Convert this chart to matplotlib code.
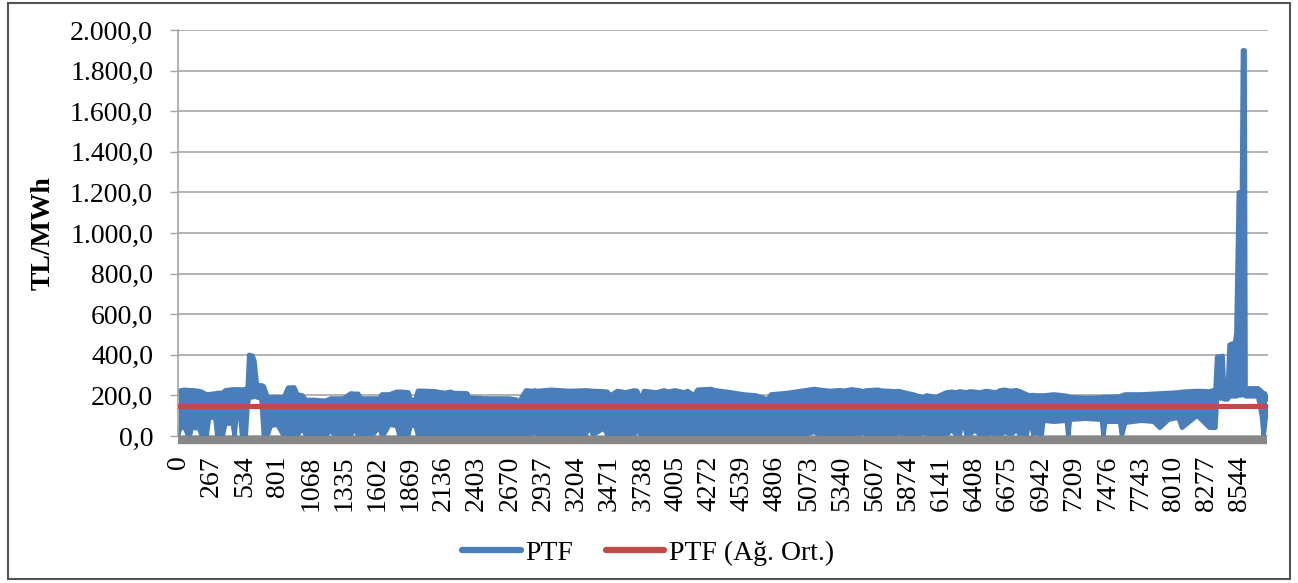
import matplotlib
matplotlib.use("Agg")
import matplotlib.pyplot as plt
from matplotlib.transforms import offset_copy
from matplotlib.patches import Rectangle
from matplotlib.lines import Line2D

# ---- data ----
# hour of year, upper envelope and lower envelope of hourly PTF (TL/MWh)
hours = [0, 20, 60, 80, 95, 110, 170, 190, 230, 250, 300, 315, 360, 380, 440, 455, 470, 500, 515, 545,
         560, 572, 600, 615, 635, 670, 690, 720, 745, 800, 850, 885, 935, 960, 1000, 1030, 1100, 1150,
         1190, 1230, 1260, 1330, 1390, 1420, 1450, 1470, 1520, 1560, 1620, 1640, 1650, 1700, 1760, 1780,
         1800, 1855, 1870, 1910, 1930, 1960, 2073, 2113, 2127, 2140, 2194, 2207, 2220, 2315, 2327, 2340,
         2470, 2485, 2500, 2650, 2662, 2675, 2720, 2735, 2760, 2800, 2850, 2870, 2890, 3000, 3150, 3280,
         3310, 3340, 3427, 3454, 3480, 3535, 3600, 3670, 3695, 3723, 3750, 3850, 3911, 3925, 3938, 4000,
         4073, 4087, 4100, 4153, 4180, 4288, 4300, 4315, 4449, 4550, 4650, 4745, 4772, 4900, 5040, 5120,
         5161, 5250, 5323, 5337, 5350, 5420, 5484, 5511, 5538, 5632, 5645, 5659, 5780, 5800, 5820, 5914,
         5968, 5995, 6022, 6100, 6183, 6223, 6263, 6290, 6317, 6344, 6371, 6411, 6452, 6505, 6545, 6586,
         6613, 6653, 6700, 6747, 6774, 6828, 6855, 6882, 6910, 6935, 6949, 6962, 7050, 7150, 7163, 7177,
         7300, 7433, 7446, 7460, 7580, 7594, 7621, 7750, 7850, 7900, 7970, 8050, 8078, 8200, 8300, 8330,
         8347, 8360, 8405, 8420, 8445, 8460, 8505, 8515, 8535, 8560, 8568, 8582, 8590, 8690, 8720, 8735,
         8745, 8759]
ptf_high = [215, 225, 228, 226, 225, 226, 222, 218, 205, 206, 210, 212, 213, 225, 230, 230, 230, 230, 228, 232,
            240, 400, 395, 370, 250, 250, 245, 192, 190, 192, 190, 238, 240, 205, 200, 178, 178, 175,
            175, 185, 185, 185, 210, 208, 208, 185, 185, 185, 185, 205, 205, 205, 218, 218,
            218, 215, 177, 180, 223, 223, 220, 215, 215, 212, 218, 215, 212, 210, 210, 190,
            185, 186, 185, 185, 185, 184, 180, 160, 185, 225, 222, 225, 222, 228, 222, 225,
            224, 222, 220, 218, 200, 222, 215, 225, 222, 177, 222, 215, 225, 222, 218, 225,
            215, 218, 222, 200, 228, 232, 230, 226, 215, 205, 200, 180, 205, 212, 225, 232,
            228, 222, 226, 225, 222, 230, 225, 220, 225, 228, 226, 224, 220, 222, 218, 205,
            195, 190, 200, 192, 215, 218, 215, 220, 218, 215, 220, 218, 215, 222, 218, 215,
            225, 228, 222, 226, 220, 205, 200, 202, 200, 200, 200, 200, 205, 198, 195, 192,
            188, 190, 192, 192, 195, 200, 205, 205, 208, 210, 212, 215, 218, 222, 220, 225,
            225, 390, 395, 200, 200, 450, 460, 505, 1200, 1200, 1900, 1900, 235, 235, 220, 200,
            210, 180]
ptf_low = [0, 45, 35, 0, 0, 40, 38, 0, 0, 90, 90, 0, 0, 60, 62, 0, 100, 95, 0, 0,
           150, 190, 190, 195, 190, 185, 0, 0, 50, 55, 0, 0, 5, 0, 40, 0, 5, 0,
           0, 30, 0, 5, 0, 40, 0, 5, 5, 0, 45, 0, 0, 55, 50, 5,
           5, 5, 50, 50, 5, 5, 5, 5, 45, 5, 5, 50, 5, 5, 45, 5,
           5, 45, 5, 5, 50, 5, 5, 5, 5, 5, 5, 50, 5, 5, 5, 5,
           45, 5, 38, 5, 5, 5, 5, 5, 30, 5, 5, 5, 5, 25, 5, 5,
           5, 25, 5, 5, 5, 5, 38, 5, 5, 5, 5, 5, 5, 5, 5, 20,
           5, 5, 5, 30, 5, 5, 5, 20, 5, 5, 30, 5, 5, 55, 5, 5,
           5, 20, 5, 5, 5, 30, 5, 5, 80, 5, 5, 30, 5, 5, 15, 5,
           5, 20, 5, 30, 5, 5, 80, 5, 20, 5, 0, 75, 70, 75, 0, 80,
           85, 80, 0, 70, 70, 0, 65, 75, 70, 40, 80, 90, 40, 100, 40, 40,
           40, 185, 185, 180, 180, 195, 195, 195, 200, 200, 210, 230, 195, 195, 100, 0,
           50, 140]
ptf_avg = 146.0
n_hours = 8760

xtick_values = [0, 267, 534, 801, 1068, 1335, 1602, 1869, 2136, 2403, 2670, 2937, 3204, 3471, 3738,
                4005, 4272, 4539, 4806, 5073, 5340, 5607, 5874, 6141, 6408, 6675, 6942, 7209, 7476,
                7743, 8010, 8277, 8544]
ytick_values = [0, 200, 400, 600, 800, 1000, 1200, 1400, 1600, 1800, 2000]

series_names = ["PTF", "PTF (Ağ. Ort.)"]
y_label = "TL/MWh"

BLUE = "#4a7ebb"
RED = "#be4b48"
GRAY = "#878787"
GRID = "#a6a6a6"

plt.rcParams["font.family"] = ["Liberation Serif", "DejaVu Serif"]

fig = plt.figure(figsize=(12.98, 5.83), dpi=100)
ax = fig.add_axes([178 / 1298, 1 - 436 / 583, (1268 - 178) / 1298, (436 - 30) / 583])

# PTF hourly band
ax.fill_between(hours, ptf_low, ptf_high, color=BLUE, lw=0, zorder=2)
ax.plot(hours, ptf_high, color=BLUE, lw=3.2, solid_joinstyle="round", solid_capstyle="round", zorder=2)
ax.plot(hours, ptf_low, color=BLUE, lw=3.2, solid_joinstyle="round", solid_capstyle="round", zorder=2)

# weighted average
ax.plot([0, n_hours - 1], [ptf_avg, ptf_avg], color=RED, lw=3.6, zorder=3)

# gray base line
trans = offset_copy(ax.transData, fig=fig, x=0, y=-4, units="dots")
ax.plot([-0.5, n_hours - 0.5], [0, 0], color=GRAY, lw=6, transform=trans,
        solid_capstyle="butt", clip_on=False, zorder=4)

ax.set_xlim(-0.5, n_hours + 10)
ax.set_ylim(0, 2000)

ax.set_yticks(ytick_values)
ax.set_yticklabels([f"{v:,.1f}".replace(",", "X").replace(".", ",").replace("X", ".") for v in ytick_values],
                   fontsize=20)
ax.set_xticks(xtick_values)
ax.set_xticklabels([str(v) for v in xtick_values], rotation=90, fontsize=20)

ax.tick_params(axis="y", length=6, width=1, color=GRID, pad=12)
ax.tick_params(axis="x", length=0, pad=14)
ax.yaxis.grid(True, color=GRID, lw=1.2, zorder=0)
ax.set_axisbelow(True)
for s in ["top", "right", "bottom"]:
    ax.spines[s].set_visible(False)
ax.spines["left"].set_color(GRID)
ax.spines["left"].set_linewidth(1.2)

ax.set_ylabel(y_label, fontsize=20, fontweight="bold", labelpad=10)

handles = [Line2D([], [], color=BLUE, lw=4.5, solid_capstyle="round"),
           Line2D([], [], color=RED, lw=4.5, solid_capstyle="round")]
fig.legend(handles, series_names, loc="center", bbox_to_anchor=(648 / 1298, 1 - 553 / 583),
           ncol=2, frameon=False, fontsize=20, handlelength=2.1, handletextpad=0.15,
           columnspacing=1.2)

fig.add_artist(Rectangle((8 / 1298, 1 - 579 / 583), (1290 - 8) / 1298, (579 - 3) / 583,
                         transform=fig.transFigure, fill=False, edgecolor="#555555", lw=1.5))

fig.savefig("out.png", dpi=100)
